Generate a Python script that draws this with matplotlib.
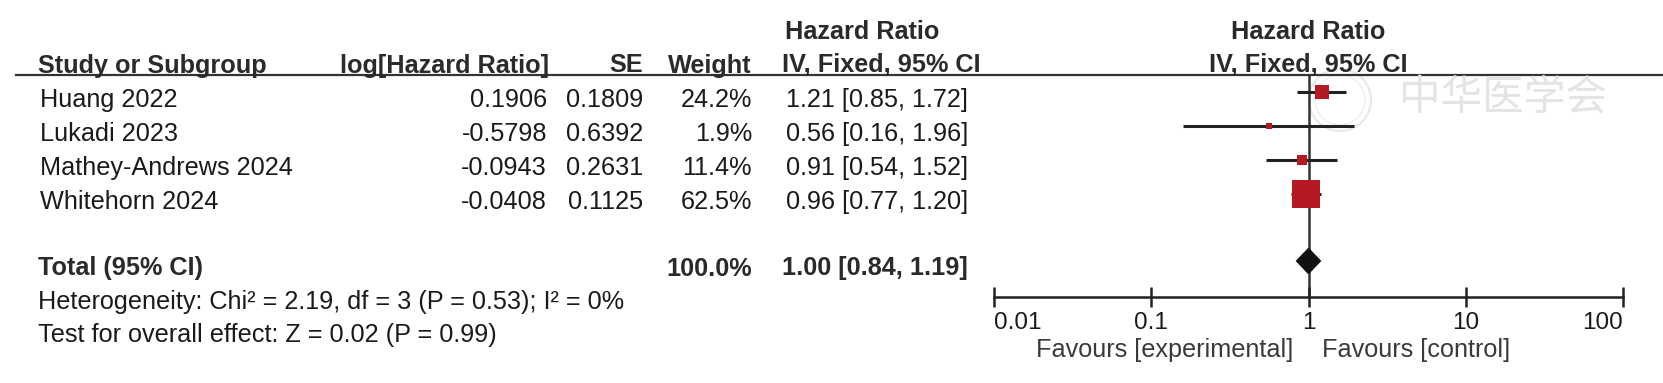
import matplotlib.pyplot as plt
import numpy as np
from matplotlib.patches import Polygon, Circle

plt.rcParams['font.family'] = ['Liberation Sans', 'DejaVu Sans']

# données du forest plot
studies = ["Huang 2022", "Lukadi 2023", "Mathey-Andrews 2024", "Whitehorn 2024"]
log_hr = ["0.1906", "-0.5798", "-0.0943", "-0.0408"]
se = ["0.1809", "0.6392", "0.2631", "0.1125"]
weights = [24.2, 1.9, 11.4, 62.5]
hr = [1.21, 0.56, 0.91, 0.96]
ci_lo = [0.85, 0.16, 0.54, 0.77]
ci_hi = [1.72, 1.96, 1.52, 1.20]

total_hr = 1.00
total_lo = 0.84
total_hi = 1.19
total_weight = "100.0%"
heterogeneity = "Heterogeneity: Chi² = 2.19, df = 3 (P = 0.53); I² = 0%"
overall = "Test for overall effect: Z = 0.02 (P = 0.99)"

ticks = [0.01, 0.1, 1, 10, 100]
tick_labels = ["0.01", "0.1", "1", "10", "100"]

W, H = 1663, 383
fig = plt.figure(figsize=(W / 100, H / 100), dpi=100)

# axe "tableau" en pixels
ax0 = fig.add_axes([0, 0, 1, 1])
ax0.set_xlim(0, W)
ax0.set_ylim(H, 0)
ax0.axis('off')

# axe du graphique (échelle log)
x_left, x_right = 994, 1623
ax = fig.add_axes([x_left / W, 0, (x_right - x_left) / W, 1])
ax.set_xscale('log')
ax.set_xlim(ticks[0], ticks[-1])
ax.set_ylim(H, 0)
ax.patch.set_alpha(0)

fs = 18.2
txt = '#1a1a1a'
hdr = '#2a2a2a'

# positions des colonnes (pixels)
c_study, c_log, c_se, c_w, c_ci = 38, 547, 643, 752, 786
plot_center = 1308

# en-têtes
y_h1, y_h2, y_line = 39, 72.5, 74
ax0.text(862, y_h1, "Hazard Ratio", fontsize=fs, fontweight='bold', color=hdr, ha='center', va='baseline')
ax0.text(plot_center, y_h1, "Hazard Ratio", fontsize=fs, fontweight='bold', color=hdr, ha='center', va='baseline')
ax0.text(c_study, y_h2, "Study or Subgroup", fontsize=fs, fontweight='bold', color=hdr, va='baseline')
ax0.text(c_log + 2, y_h2, "log[Hazard Ratio]", fontsize=fs, fontweight='bold', color=hdr, ha='right', va='baseline')
ax0.text(c_se, y_h2, "SE", fontsize=fs, fontweight='bold', color=hdr, ha='right', va='baseline')
ax0.text(c_w, y_h2, "Weight", fontsize=fs, fontweight='bold', color=hdr, ha='right', va='baseline')
ax0.text(782, y_h2, "IV, Fixed, 95% CI", fontsize=fs, fontweight='bold', color=hdr, va='baseline')
ax0.text(plot_center, y_h2, "IV, Fixed, 95% CI", fontsize=fs, fontweight='bold', color=hdr, ha='center', va='baseline')
ax0.axhline(y_line + 1, xmin=16 / W, xmax=1, color='#333333', lw=1.6)

# filigrane
ax0.add_patch(Circle((1340, 100), 31, fill=False, ec='#e8e8e8', lw=1.5))
ax0.add_patch(Circle((1340, 100), 25, fill=False, ec='#eeeeee', lw=1))
ax0.text(1503, 98, "中华医学会", fontsize=30, color='#e4e4e4', ha='center', va='center',
         family=['Noto Sans CJK SC', 'DejaVu Sans'], fontweight='light', style='italic')

# lignes des études
row0, step = 107, 34
mark0, mstep = 92.3, 33.9
for i, name in enumerate(studies):
    yb = row0 + i * step
    ax0.text(c_study + 2, yb, name, fontsize=fs, color=txt, va='baseline')
    ax0.text(c_log, yb, log_hr[i], fontsize=fs, color=txt, ha='right', va='baseline')
    ax0.text(c_se, yb, se[i], fontsize=fs, color=txt, ha='right', va='baseline')
    ax0.text(c_w, yb, f"{weights[i]:.1f}%", fontsize=fs, color=txt, ha='right', va='baseline')
    ax0.text(c_ci, yb, f"{hr[i]:.2f} [{ci_lo[i]:.2f}, {ci_hi[i]:.2f}]", fontsize=fs, color=txt, va='baseline')

    ym = mark0 + i * mstep
    ax.hlines(ym, ci_lo[i], ci_hi[i], color='#222222', lw=2.2, zorder=2)
    side = 6 + 0.34 * weights[i]  # pixels
    ax.plot(hr[i], ym, marker='s', markersize=side * 0.72, color='#b51a22', mew=0, zorder=3)

# total
y_tot = 275.5
ax0.text(c_study, y_tot, "Total (95% CI)", fontsize=fs, fontweight='bold', color=hdr, va='baseline')
ax0.text(c_w, y_tot, total_weight, fontsize=fs, fontweight='bold', color=hdr, ha='right', va='baseline')
ax0.text(c_ci - 4, y_tot, f"{total_hr:.2f} [{total_lo:.2f}, {total_hi:.2f}]", fontsize=fs,
         fontweight='bold', color=hdr, va='baseline')
yd = 261
ax.add_patch(Polygon([(total_lo, yd), (total_hr, yd - 12.5), (total_hi, yd), (total_hr, yd + 12.5)],
                     closed=True, color='#111111', zorder=3))

ax0.text(c_study, 309, heterogeneity, fontsize=fs, color=txt, va='baseline')
ax0.text(c_study, 342, overall, fontsize=fs, color=txt, va='baseline')

# ligne verticale à 1 et axe
y_axis = 297
ax.vlines(1, y_line, y_axis, color='#333333', lw=1.8, zorder=1)
for s in ['top', 'left', 'right']:
    ax.spines[s].set_visible(False)
ax.spines['bottom'].set_position(('data', y_axis))
ax.spines['bottom'].set_linewidth(1.8)
ax.spines['bottom'].set_color('#222222')
ax.set_xticks(ticks)
ax.set_xticklabels([])
ax.xaxis.set_minor_locator(plt.NullLocator())
ax.tick_params(axis='x', direction='inout', length=14, width=1.8, color='#222222')
ax.set_yticks([])
for t, lab in zip(ticks, tick_labels):
    ha = 'left' if t == ticks[0] else ('right' if t == ticks[-1] else 'center')
    ax.text(t, 329, lab, fontsize=17.5, color=txt, ha=ha, va='baseline')

ax0.text(1293, 357, "Favours [experimental]", fontsize=fs, color='#3a3a3a', ha='right', va='baseline')
ax0.text(1322, 357, "Favours [control]", fontsize=fs, color='#3a3a3a', ha='left', va='baseline')

fig.savefig("out.png", dpi=100, facecolor='white')
